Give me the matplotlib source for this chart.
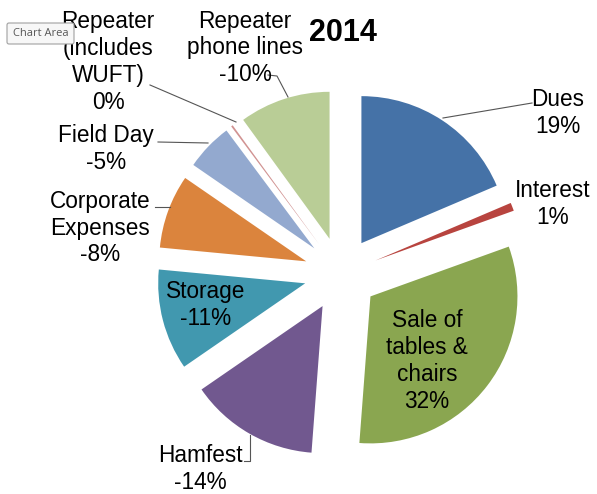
import matplotlib
matplotlib.use("Agg")
import matplotlib.pyplot as plt
from matplotlib.patches import FancyBboxPatch

W, H = 597, 494

categories = ["Dues", "Interest", "Sale of\ntables &\nchairs", "Hamfest", "Storage",
              "Corporate\nExpenses", "Field Day", "Repeater\n(includes\nWUFT)", "Repeater\nphone lines"]
# absolute share (percent) of each slice
shares = [18.6, 0.9, 31.7, 14.2, 11.1, 8.1, 5.2, 0.2, 10.0]
pct_labels = ["19%", "1%", "32%", "-14%", "-11%", "-8%", "-5%", "0%", "-10%"]
colors = ["#4572A7", "#B8443F", "#8AA650", "#71588F", "#4198AF",
          "#DB843D", "#93A9CF", "#D19392", "#B9CD96"]

fig = plt.figure(figsize=(W / 100, H / 100), dpi=100)
ax = fig.add_axes([0, 0, 1, 1])

cx, cy, R = 341, H - 274, 147
ax.pie(shares, colors=colors, startangle=90, counterclock=False,
       center=(cx, cy), radius=R, explode=[37] * len(shares),
       wedgeprops=dict(linewidth=0))
ax.set_xlim(0, W)
ax.set_ylim(0, H)
ax.set_aspect("equal")
ax.axis("off")

font = dict(family=["Liberation Sans", "DejaVu Sans"], fontsize=16.3, color="black",
            ha="center", va="center", linespacing=1.22)

def Y(py):
    return H - py

# text positions (pixels from top-left)
label_pos = [(558, 113), (553, 204), (427, 361), (200, 469), (206, 305),
             (100, 228), (106, 149), (108, 62), (245, 48)]
for cat, pct, (px, py) in zip(categories, pct_labels, label_pos):
    ax.text(px, Y(py), f"{cat}\n{pct}", **font)

# leader lines
lc = "#555555"
leaders = [
    [(443, 118), (532, 103)],
    [(158, 142), (208, 143)],
    [(155, 207), (170, 207)],
    [(150, 85), (236, 122)],
    [(268, 75), (277, 76), (288, 97)],
    [(244, 461), (250, 461), (250, 435)],
]
for pts in leaders:
    xs = [p[0] for p in pts]
    ys = [Y(p[1]) for p in pts]
    ax.plot(xs, ys, color=lc, lw=0.8)

# title
ax.text(343, Y(33), "2014", family=["Liberation Sans", "DejaVu Sans"], fontsize=22,
        fontweight="bold", ha="center", va="center")

# "Chart Area" tooltip
box = FancyBboxPatch((7, Y(44)), 67, 21, boxstyle="round,pad=0,rounding_size=2",
                     facecolor="#F7F7F7", edgecolor="#A0A0A0", lw=0.8, zorder=5)
ax.add_patch(box)
ax.text(40.5, Y(33.5), "Chart Area", family=["Open Sans", "DejaVu Sans"], fontsize=8,
        color="#575757", ha="center", va="center", zorder=6)

fig.savefig("out.png", dpi=100)
